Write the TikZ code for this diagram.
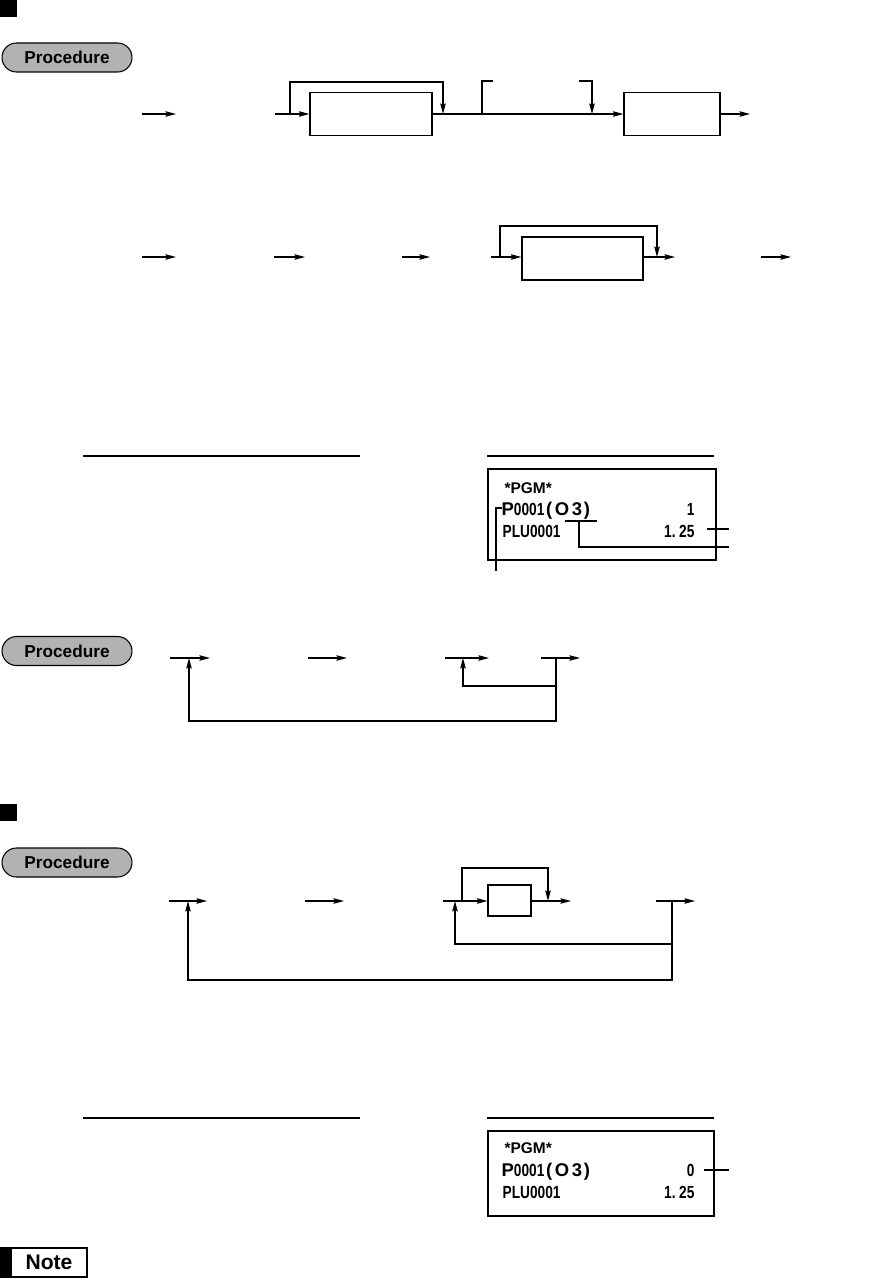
\documentclass[tikz,border=0pt]{standalone}
\usepackage{fontspec}
\setmainfont{Liberation Sans}
\newfontfamily\rcptfont[FakeStretch=0.78]{Liberation Sans}
\usetikzlibrary{arrows.meta,positioning,calc}

\begin{document}
\begin{tikzpicture}[x=0.02cm, y=-0.02cm, ->, >={Stealth[length=2.1mm,width=1.1mm,inset=0.3mm]}, line width=0.7pt]
\tikzstyle{blk}=[draw, inner sep=0pt]
\tikzstyle{headsq}=[fill=black, minimum size=0.34cm, inner sep=0pt]
\tikzstyle{pill}=[draw, line width=0.6pt, fill=black!30, rounded corners=0.29cm, minimum width=2.6cm, minimum height=0.58cm, inner sep=0pt, font=\bfseries\fontsize{9.8}{10}\selectfont]
\tikzstyle{rtxt}=[inner sep=0pt, font=\rcptfont\bfseries\fontsize{10}{10}\selectfont]
\newcommand{\wideb}[1]{{\normalfont\bfseries\fontsize{10.5}{10.5}\selectfont #1}}
\newcommand{\pgmhead}{{\normalfont\bfseries\fontsize{8.8}{8.8}\selectfont *PGM*}}
\useasboundingbox (0,0) rectangle (876,1281);

% Heading marks and procedure labels
\node[headsq] (sq1) at (8.5,8.5) {};
\node[headsq] (sq2) at (8.5,812.5) {};
\node[pill] (proc1) at (67,57.5) {Procedure};
\node[pill] (proc2) at (67,651) {Procedure};
\node[pill] (proc3) at (67,862.5) {Procedure};

% Row 1
\coordinate (r1a) at (142,114);
\coordinate (r1b) at (176,114);
\coordinate (r1c) at (275,114);
\node[blk, minimum width=2.44cm, minimum height=0.86cm] (box1) at (371,114) {};
\node[blk, minimum width=1.92cm, minimum height=0.86cm] (box2) at (672,114) {};
\coordinate (r1d) at (750,114);
\coordinate (sk1) at (290,114);
\coordinate (sk1e) at (443,114);
\coordinate (br1) at (482,114);
\coordinate (br1e) at (493,81);
\coordinate (br2) at (579,81);
\coordinate (br2e) at (592,114);
\draw (r1a) -- (r1b);
\draw (r1c) -- (box1);
\draw (sk1) -- ++(0,-32) -| (sk1e);
\draw (box1) -- (box2);
\draw[-] (br1) |- (br1e);
\draw (br2) -| (br2e);
\draw (box2) -- (r1d);

% Row 2
\coordinate (r2a) at (142,257);
\coordinate (r2b) at (176,257);
\coordinate (r2c) at (274,257);
\coordinate (r2d) at (305,257);
\coordinate (r2e) at (402,257);
\coordinate (r2f) at (430,257);
\coordinate (r2g) at (491,257);
\node[blk, minimum width=2.42cm, minimum height=0.86cm] (box3) at (582.5,258.5) {};
\coordinate (r2h) at (675,257);
\coordinate (r2i) at (761,257);
\coordinate (r2j) at (791,257);
\coordinate (sk2) at (500,257);
\coordinate (sk2e) at (657,257);
\draw (r2a) -- (r2b);
\draw (r2c) -- (r2d);
\draw (r2e) -- (r2f);
\draw (r2g) -- (r2g -| box3.west);
\draw (sk2) -- ++(0,-31) -| (sk2e);
\draw[-] (r2h -| box3.east) -- (sk2e);
\draw (sk2e) -- (r2h);
\draw (r2i) -- (r2j);

% Receipt 1
\draw[-] (83,456) coordinate (u1a) -- (360,456) coordinate (u1b);
\draw[-] (487,456) coordinate (u2a) -- (714,456) coordinate (u2b);
\node[blk, minimum width=4.56cm, minimum height=1.82cm] (rc1) at (602,514.5) {};
\node[rtxt, anchor=base west] (rc1h) at (504,493) {\pgmhead};
\node[rtxt, anchor=base west] (rc1p) at (501,515) {\wideb{P}0001\wideb{\hspace{1pt}(\hspace{1.5pt}O\hspace{1.5pt}3\hspace{1pt})}};
\node[rtxt, anchor=base east] (rc1q) at (695,515) {1};
\node[rtxt, anchor=base west] (rc1l) at (502,537) {PLU0001};
\node[rtxt, anchor=base east] (rc1v) at (695,537) {1.\hspace{2pt}25};
\coordinate (l1a) at (707,529);
\coordinate (l1b) at (729,529);
\coordinate (l2a) at (565,521);
\coordinate (l2b) at (597,521);
\coordinate (l2c) at (579,521);
\coordinate (l2d) at (729,547);
\coordinate (l3a) at (502,508);
\coordinate (l3c) at (496,571);
\draw[-] (l1a) -- (l1b);
\draw[-] (l2a) -- (l2b);
\draw[-] (l2c) |- (l2d);
\draw[-] (l3a) -| (l3c);

% Procedure 2
\coordinate (s2a) at (170,658);
\coordinate (s2b) at (210,658);
\coordinate (s2c) at (308,658);
\coordinate (s2d) at (347,658);
\coordinate (s2e) at (445,658);
\coordinate (s2f) at (489,658);
\coordinate (s2g) at (541,658);
\coordinate (s2h) at (580,658);
\coordinate (j1) at (189,658);
\coordinate (j2) at (463,658);
\coordinate (k1) at (556,658);
\coordinate (k1m) at (556,686);
\draw (s2a) -- (s2b);
\draw (s2c) -- (s2d);
\draw (s2e) -- (s2f);
\draw (s2g) -- (s2h);
\draw (k1) -- ++(0,63) -| (j1);
\draw (k1m) -| (j2);

% Procedure 3
\coordinate (s3a) at (169,901);
\coordinate (s3b) at (207,901);
\coordinate (s3c) at (305,901);
\coordinate (s3d) at (344,901);
\coordinate (s3e) at (443,901);
\node[blk, minimum width=0.86cm, minimum height=0.62cm] (box4) at (509.5,900.5) {};
\coordinate (s3f) at (571,901);
\coordinate (s3g) at (656,901);
\coordinate (s3h) at (695,901);
\coordinate (sk3) at (462,901);
\coordinate (sk3e) at (548,901);
\coordinate (j3) at (188,901);
\coordinate (j4) at (455,901);
\coordinate (k2) at (672,901);
\coordinate (k2m) at (672,944);
\draw (s3a) -- (s3b);
\draw (s3c) -- (s3d);
\draw (s3e) -- (s3e -| box4.west);
\draw (sk3) -- ++(0,-33) -| (sk3e);
\draw (s3f -| box4.east) -- (s3f);
\draw (s3g) -- (s3h);
\draw (k2) -- ++(0,79) -| (j3);
\draw (k2m) -| (j4);

% Receipt 2
\draw[-] (83,1118) coordinate (u3a) -- (360,1118) coordinate (u3b);
\draw[-] (487,1118) coordinate (u4a) -- (714,1118) coordinate (u4b);
\node[blk, minimum width=4.52cm, minimum height=1.7cm] (rc2) at (601,1173.5) {};
\node[rtxt, anchor=base west] (rc2h) at (504,1153) {\pgmhead};
\node[rtxt, anchor=base west] (rc2p) at (501,1176) {\wideb{P}0001\wideb{\hspace{1pt}(\hspace{1.5pt}O\hspace{1.5pt}3\hspace{1pt})}};
\node[rtxt, anchor=base east] (rc2q) at (695,1176) {0};
\node[rtxt, anchor=base west] (rc2l) at (502,1198) {PLU0001};
\node[rtxt, anchor=base east] (rc2v) at (695,1198) {1.\hspace{2pt}25};
\coordinate (l4a) at (704,1170);
\coordinate (l4b) at (729,1170);
\draw[-] (l4a) -- (l4b);

% Note
\node[draw, line width=0.6pt, minimum width=1.74cm, minimum height=0.58cm, inner sep=0pt] (note) at (43.5,1262.5) {};
\fill (note.south west) rectangle ($(note.north west)+(13,0)$);
\node[inner sep=0pt, font=\bfseries\fontsize{12}{12}\selectfont] (notet) at (49,1262.5) {Note};
\end{tikzpicture}
\end{document}
